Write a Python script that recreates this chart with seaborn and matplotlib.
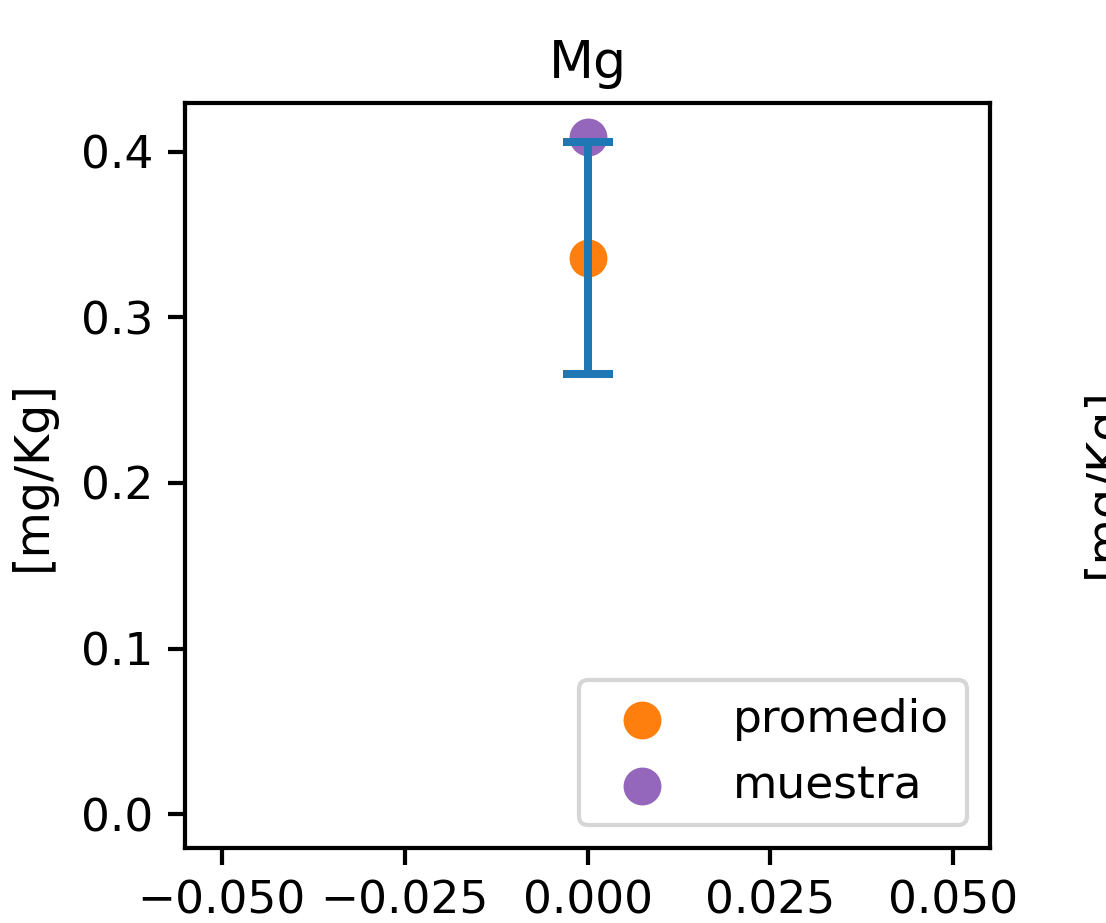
import matplotlib
matplotlib.use('Agg')
import matplotlib.pyplot as plt
import seaborn as sns
import pandas as pd

# data
elemento = 'Mg'
x_pos = [0.0]
promedio = [0.336]
desviacion = [0.070]
muestra = [0.409]
unidad = '[mg/Kg]'
xticks = [-0.05, -0.025, 0.0, 0.025, 0.05]
yticks = [0.0, 0.1, 0.2, 0.3, 0.4]

DPI = 303
fig = plt.figure(figsize=(1106 / DPI, 923 / DPI), dpi=DPI)
ax = fig.add_axes([185 / 1106, 1 - 848 / 923, (990 - 185) / 1106, (848 - 103) / 923])

df_prom = pd.DataFrame({'x': x_pos, 'y': promedio})
df_mues = pd.DataFrame({'x': x_pos, 'y': muestra})

sns.scatterplot(data=df_prom, x='x', y='y', color='C1', s=81, linewidth=0,
                label='promedio', ax=ax, zorder=2)
sns.scatterplot(data=df_mues, x='x', y='y', color='C4', s=81, linewidth=0,
                label='muestra', ax=ax, zorder=2)
ax.errorbar(x_pos, promedio, yerr=desviacion, fmt='none', ecolor='C0',
            elinewidth=1.9, capthick=1.9, capsize=6, zorder=3)

ax.set_xlim(-0.055, 0.055)
ax.set_ylim(-0.0205, 0.4295)
ax.set_xticks(xticks)
ax.set_yticks(yticks)
ax.tick_params(labelsize=10.8, width=1.0, length=4)
for sp in ax.spines.values():
    sp.set_linewidth(1.0)
ax.set_xlabel('')
ax.set_ylabel(unidad, fontsize=11.3, labelpad=6)
ax.set_title(elemento, fontsize=12.4)
ax.legend(loc='lower right', fontsize=10.8, handletextpad=1.0)

# clipped label of the neighbouring panel
fig.text(1081 / 1106, 1 - 483 / 923, unidad, fontsize=11.3, rotation=90,
         ha='left', va='center')

fig.savefig('out.png', dpi=DPI)
